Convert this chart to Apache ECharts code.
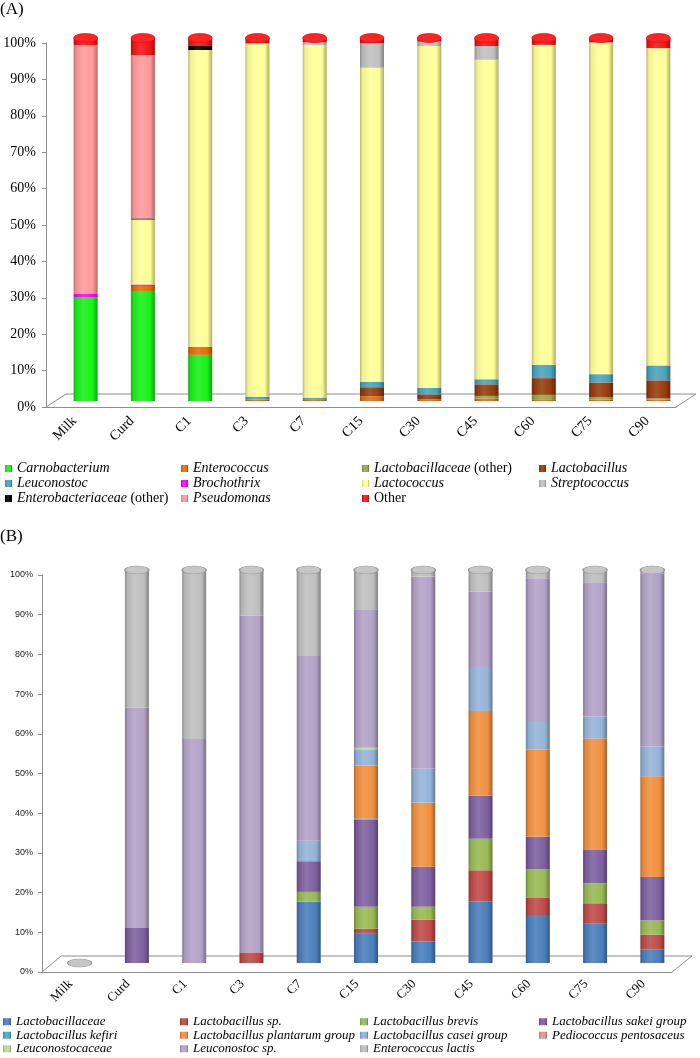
<!DOCTYPE html>
<html><head><meta charset="utf-8">
<script src="https://cdn.jsdelivr.net/npm/echarts@6/dist/echarts.min.js"></script>
<style>html,body{margin:0;padding:0;background:#fff}#c{width:700px;height:1058px}</style>
</head><body><div id="c"></div>
<script>
// ---------- DATA ----------
const categories = ['Milk','Curd','C1','C3','C7','C15','C30','C45','C60','C75','C90'];
const yTickLabels = ['0%','10%','20%','30%','40%','50%','60%','70%','80%','90%','100%'];

// Panel A (stack order bottom -> top)
const carnobacterium   = [28.5, 30.3, 12.7, 0, 0, 0, 0, 0, 0, 0, 0];
const enterococcus     = [0, 1.4, 2.2, 0.4, 0.5, 1.3, 0.5, 0.7, 0.3, 0.4, 0.4];
const brochothrix      = [1.0, 0.4, 0, 0, 0, 0, 0, 0, 0, 0, 0];
const lactobacillaceaeOther = [0, 0, 0, 0, 0, 0, 0, 0.7, 1.4, 0.6, 0.3];
const lactobacillus    = [0, 0, 0, 0, 0, 2.5, 1.3, 3.2, 4.6, 4.1, 5.0];
const leuconostoc      = [0, 0, 0, 0.8, 0.4, 1.5, 1.8, 1.4, 3.7, 2.3, 4.1];
const lactococcus      = [0, 17.9, 81.8, 97.3, 97.2, 86.5, 94.2, 88.0, 88.1, 91.4, 87.4];
const enterobacteriaceaeOther = [0, 0.3, 1.1, 0, 0, 0, 0, 0, 0, 0, 0];
const streptococcus    = [0, 0, 0, 0, 0.7, 6.7, 1.2, 3.8, 0, 0, 0];
const pseudomonas      = [68.5, 45.0, 0, 0, 0, 0, 0, 0, 0, 0, 0];
const otherA           = [2.0, 4.7, 2.2, 1.5, 1.2, 1.5, 1.0, 2.2, 1.9, 1.2, 2.8];

// Panel B (stack order bottom -> top)
const lactobacillaceae = [0, 0, 0, 0, 15.6, 7.6, 5.5, 15.6, 12.2, 10.1, 3.4];
const lactobacillusSp  = [0, 0, 0, 2.7, 0, 1.1, 5.5, 8.0, 4.5, 5.1, 3.8];
const lbBrevis         = [0, 0, 0, 0, 2.5, 5.6, 3.3, 8.0, 7.2, 5.1, 3.6];
const lbSakei          = [0, 8.9, 0, 0, 7.8, 22.2, 10.2, 11.0, 8.2, 8.6, 11.1];
const lbKefiri         = [0, 0, 0, 0, 0, 0.3, 0, 0, 0, 0, 0];
const lbPlantarum      = [0, 0, 0, 0, 0, 13.4, 16.3, 21.5, 22.2, 28.2, 25.6];
const lbCasei          = [0, 0, 0, 0, 5.2, 4.0, 8.7, 11.2, 7.3, 5.6, 7.5];
const pediococcus      = [0, 0, 0, 0, 0, 0, 0, 0, 0, 0, 0];
const leuconostocaceae = [0, 0, 0, 0, 0, 0.6, 0, 0, 0, 0, 0];
const leuconostocSp    = [0, 56.1, 57.0, 85.7, 47.0, 35.2, 48.8, 19.2, 36.3, 34.2, 44.2];
const enterococcusLactis = [0, 35.0, 43.0, 11.6, 21.9, 10.0, 1.7, 5.5, 2.1, 3.1, 0.8];

const seriesA = [
  ['Carnobacterium', carnobacterium, '#18f018'],
  ['Enterococcus', enterococcus, '#e36c09'],
  ['Brochothrix', brochothrix, '#ff00ff'],
  ['Lactobacillaceae (other)', lactobacillaceaeOther, '#92a84e'],
  ['Lactobacillus', lactobacillus, '#963c0c'],
  ['Leuconostoc', leuconostoc, '#4aa3bb'],
  ['Lactococcus', lactococcus, '#ffff99'],
  ['Enterobacteriaceae (other)', enterobacteriaceaeOther, '#000000'],
  ['Streptococcus', streptococcus, '#c0c0c0'],
  ['Pseudomonas', pseudomonas, '#ff9999'],
  ['Other', otherA, '#f51414']
];
const seriesB = [
  ['Lactobacillaceae', lactobacillaceae, '#4a7ebb'],
  ['Lactobacillus sp.', lactobacillusSp, '#be4b48'],
  ['Lactobacillus brevis', lbBrevis, '#98b954'],
  ['Lactobacillus sakei group', lbSakei, '#7d60a0'],
  ['Lactobacillus kefiri', lbKefiri, '#46aac5'],
  ['Lactobacillus plantarum group', lbPlantarum, '#f0903f'],
  ['Lactobacillus casei group', lbCasei, '#95b3d7'],
  ['Pediococcus pentosaceus', pediococcus, '#d99795'],
  ['Leuconostocaceae', leuconostocaceae, '#c3d69b'],
  ['Leuconostoc sp.', leuconostocSp, '#b3a2c7'],
  ['Enterococcus lactis', enterococcusLactis, '#bfbfbf']
];

// stack totals (sum of the series above) used to place the cylinder top caps
function totals(list){ return categories.map((c, i) => +list.reduce((s, e) => s + e[1][i], 0).toFixed(2)); }
const totalA = totals(seriesA);
const totalB = totals(seriesB);

// ---------- STYLE HELPERS ----------
function hexToRgb(h){h=h.replace('#','');return [parseInt(h.substr(0,2),16),parseInt(h.substr(2,2),16),parseInt(h.substr(4,2),16)];}
function mix(c, t, f){const a=hexToRgb(c), b=hexToRgb(t);return 'rgb('+a.map((v,i)=>Math.round(v+(b[i]-v)*f)).join(',')+')';}
function grad(c){
  return new echarts.graphic.LinearGradient(0,0,1,0,[
    {offset:0, color:mix(c,'#000000',0.28)},
    {offset:0.1, color:mix(c,'#000000',0.06)},
    {offset:0.4, color:mix(c,'#ffffff',0.12)},
    {offset:0.8, color:c},
    {offset:1, color:mix(c,'#000000',0.32)}
  ]);
}
const SERIF = "'Liberation Serif','Times New Roman',serif";
const axisGray = '#8e8e8e';

function richLabel(name){
  if (name === 'Other') return '{n|Other}';
  if (name.indexOf(' (other)') > 0) return '{i|' + name.replace(' (other)','') + '} {n|(other)}';
  return '{i|' + name + '}';
}

function makeLegend(names, left, top, size, lh, iw){
  return {
    data: names, left: left, top: top, orient: 'vertical', itemGap: 0,
    itemWidth: iw, itemHeight: 7, icon: 'rect', selectedMode: false,
    padding: 0,
    formatter: richLabel,
    textStyle: {
      fontFamily: SERIF, fontSize: size, color: '#000', lineHeight: lh,
      rich: {
        i: {fontFamily: SERIF, fontSize: size, fontStyle: 'italic', color: '#000', lineHeight: lh},
        n: {fontFamily: SERIF, fontSize: size, fontStyle: 'normal', color: '#000', lineHeight: lh}
      }
    }
  };
}

const option = {
  animation: false,
  backgroundColor: '#fff',
  title: [
    {text: '(A)', left: 0, top: 1, padding: 0, textStyle: {fontFamily: SERIF, fontSize: 17, fontWeight: 'normal', color: '#000'}},
    {text: '(B)', left: 0, top: 528, padding: 0, textStyle: {fontFamily: SERIF, fontSize: 17, fontWeight: 'normal', color: '#000'}}
  ],
  grid: [
    {left: 46, top: 43, width: 630, height: 364},   // A axes
    {left: 57, top: 38, width: 630, height: 363},   // A bars
    {left: 42, top: 575, width: 630, height: 397},  // B axes
    {left: 51, top: 570, width: 630, height: 393}   // B bars
  ],
  xAxis: [
    {gridIndex: 0, type: 'category', data: categories,
     axisLine: {lineStyle: {color: axisGray}}, axisTick: {length: 5, lineStyle: {color: axisGray}},
     axisLabel: {rotate: 45, margin: 12, fontFamily: SERIF, fontSize: 14, color: '#000'}},
    {gridIndex: 1, type: 'category', data: categories, show: false},
    {gridIndex: 2, type: 'category', data: categories,
     axisLine: {lineStyle: {color: axisGray}}, axisTick: {length: 5, lineStyle: {color: axisGray}},
     axisLabel: {rotate: 45, margin: 10, fontFamily: SERIF, fontSize: 13, color: '#000'}},
    {gridIndex: 3, type: 'category', data: categories, show: false}
  ],
  yAxis: [
    {gridIndex: 0, type: 'value', min: 0, max: 100, interval: 10, splitLine: {show: false},
     axisLine: {show: true, lineStyle: {color: axisGray}}, axisTick: {show: true, length: 4, lineStyle: {color: axisGray}},
     axisLabel: {margin: 10, fontFamily: SERIF, fontSize: 14, color: '#000', formatter: v => yTickLabels[Math.round(v/10)]}},
    {gridIndex: 1, type: 'value', min: 0, max: 100, show: false},
    {gridIndex: 2, type: 'value', min: 0, max: 100, interval: 10, splitLine: {show: false},
     axisLine: {show: true, lineStyle: {color: axisGray}}, axisTick: {show: true, length: 4, lineStyle: {color: axisGray}},
     axisLabel: {margin: 9, fontFamily: "'Liberation Sans',Arial,sans-serif", fontSize: 9, color: '#222', formatter: v => yTickLabels[Math.round(v/10)]}},
    {gridIndex: 3, type: 'value', min: 0, max: 100, show: false}
  ],
  legend: [
    makeLegend(['Carnobacterium','Leuconostoc','Enterobacteriaceae (other)'], 5, 461, 14, 15, 7),
    makeLegend(['Enterococcus','Brochothrix','Pseudomonas'], 181, 461, 14, 15, 7),
    makeLegend(['Lactobacillaceae (other)','Lactococcus','Other'], 362, 461, 14, 15, 7),
    makeLegend(['Lactobacillus','Streptococcus'], 539, 461, 14, 15, 7),
    makeLegend(['Lactobacillaceae','Lactobacillus kefiri','Leuconostocaceae'], 3, 1015, 13, 13.5, 8),
    makeLegend(['Lactobacillus sp.','Lactobacillus plantarum group','Leuconostoc sp.'], 180, 1015, 13, 13.5, 8),
    makeLegend(['Lactobacillus brevis','Lactobacillus casei group','Enterococcus lactis'], 360, 1015, 13, 13.5, 8),
    makeLegend(['Lactobacillus sakei group','Pediococcus pentosaceus'], 539, 1015, 13, 13.5, 8)
  ],
  graphic: [
    {type: 'polyline', silent: true, z: -1, shape: {points: [[46,407],[66,394],[696,394],[676,407]]}, style: {stroke: axisGray, fill: null, lineWidth: 1}},
    {type: 'polyline', silent: true, z: -1, shape: {points: [[42,972],[61,956],[692,956],[672,972]]}, style: {stroke: axisGray, fill: null, lineWidth: 1}}
  ],
  series: []
};

seriesA.forEach(([name, data, color]) => {
  option.series.push({name, type: 'bar', stack: 'A', xAxisIndex: 1, yAxisIndex: 1, barWidth: 24,
    data: data, color: color, itemStyle: {color: grad(color)}, emphasis: {disabled: true}});
});
seriesB.forEach(([name, data, color]) => {
  option.series.push({name, type: 'bar', stack: 'B', xAxisIndex: 3, yAxisIndex: 3, barWidth: 24,
    data: data, color: color, itemStyle: {color: grad(color)}, emphasis: {disabled: true}});
});
// cylinder top caps
option.series.push({name: 'capA', type: 'scatter', xAxisIndex: 1, yAxisIndex: 1, symbol: 'circle', symbolSize: [24, 9],
  data: totalA, itemStyle: {color: '#ff2424', borderColor: '#d81010', borderWidth: 0.6, opacity: 1}, emphasis: {disabled: true}, z: 3});
option.series.push({name: 'capB', type: 'scatter', xAxisIndex: 3, yAxisIndex: 3, symbol: 'circle', symbolSize: [24, 8],
  data: totalB, itemStyle: {color: '#c6c6c6', borderColor: '#959595', borderWidth: 0.8, opacity: 1}, emphasis: {disabled: true}, z: 3});

const chart = echarts.init(document.getElementById('c'), null, {renderer: 'canvas'});
chart.setOption(option);
</script>
</body></html>
